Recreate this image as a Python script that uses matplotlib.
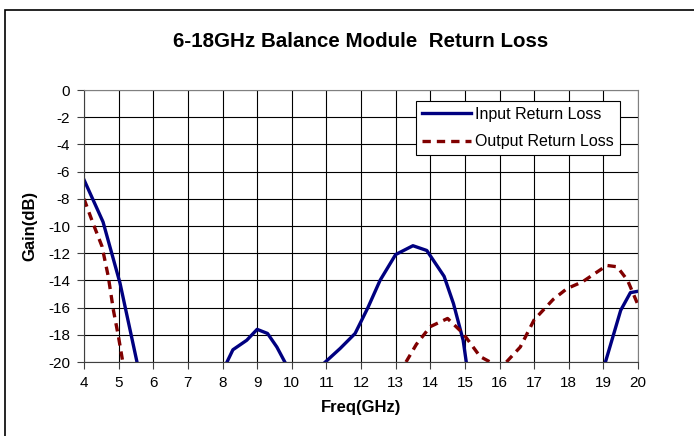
import numpy as np
import matplotlib
matplotlib.use("Agg")
import matplotlib.pyplot as plt
from matplotlib.patches import Rectangle

plt.rcParams['font.family'] = ['Liberation Sans', 'DejaVu Sans']
plt.rcParams['axes.unicode_minus'] = False

# Input return loss (dB) vs frequency (GHz), NaN = below -20 dB
freq_in = [4.0, 4.55, 5.04, 5.53, np.nan,
           8.13, 8.3, 8.7, 9.0, 9.3, 9.57, 9.8, np.nan,
           10.97, 11.4, 11.83, 12.2, 12.55, 13.0, 13.5, 13.9, 14.4, 14.67, 14.95, 15.04, np.nan,
           19.06, 19.5, 19.78, 20.0]
rl_in = [-6.6, -9.7, -14.2, -20.0, np.nan,
         -20.0, -19.1, -18.4, -17.6, -17.9, -18.9, -20.0, np.nan,
         -20.0, -19.0, -17.9, -16.0, -14.0, -12.1, -11.45, -11.8, -13.7, -15.7, -18.4, -20.0, np.nan,
         -20.0, -16.2, -14.9, -14.8]

# Output return loss
freq_out = [4.0, 4.26, 4.52, 4.7, 4.85, 5.0, 5.12, np.nan,
            13.3, 13.6, 14.0, 14.5, 14.95, 15.44, 15.73, np.nan,
            16.2, 16.6, 17.0, 17.55, 17.95, 18.4, 19.1, 19.4, 19.7, 20.0]
rl_out = [-8.0, -9.8, -11.5, -13.7, -16.2, -18.2, -20.0, np.nan,
          -20.0, -18.7, -17.4, -16.8, -17.9, -19.6, -20.0, np.nan,
          -20.0, -18.9, -16.9, -15.4, -14.6, -14.1, -12.9, -13.0, -14.0, -15.8]

fig = plt.figure(figsize=(6.94, 4.36), dpi=100)
# chart area frame (runs off the right and bottom edges)
fig.patches.append(Rectangle((5 / 694, -0.1), 1.1, 1 - 10 / 436 + 0.1,
                             transform=fig.transFigure, fill=False,
                             edgecolor='black', linewidth=1.2))

ax = fig.add_axes([84 / 694, 1 - 362 / 436, (638 - 84) / 694, (362 - 90) / 436])
ax.plot(freq_in, rl_in, color='#000080', linewidth=2.4, label='Input Return Loss')
ax.plot(freq_out, rl_out, color='#800000', linewidth=2.4, linestyle=(0, (2.5, 1.8)),
        label='Output Return Loss')

ax.set_xlim(4, 20)
ax.set_ylim(-20, 0)
ax.set_xticks(range(4, 21))
ax.set_yticks(range(-20, 1, 2))
ax.grid(True, color='black', linewidth=0.8)
ax.tick_params(direction='out', length=5, width=0.8, labelsize=11, color='#404040', pad=5)
for s in ['top', 'right']:
    ax.spines[s].set_color('#808080')
for s in ['left', 'bottom']:
    ax.spines[s].set_color('#404040')

ax.set_title('6-18GHz Balance Module  Return Loss', fontsize=14.8, fontweight='bold', pad=31)
ax.set_xlabel('Freq(GHz)', fontsize=12, fontweight='bold', labelpad=7)
ax.set_ylabel('Gain(dB)', fontsize=12, fontweight='bold', labelpad=8)

leg = ax.legend(loc='upper right', bbox_to_anchor=(0.9675, 0.9596), fontsize=11.5,
                fancybox=False, framealpha=1, edgecolor='black', borderpad=0.38,
                handlelength=3.1, handletextpad=0.25, labelspacing=0.77, borderaxespad=0)
leg.get_frame().set_linewidth(0.8)

fig.savefig('out.png', dpi=100)
